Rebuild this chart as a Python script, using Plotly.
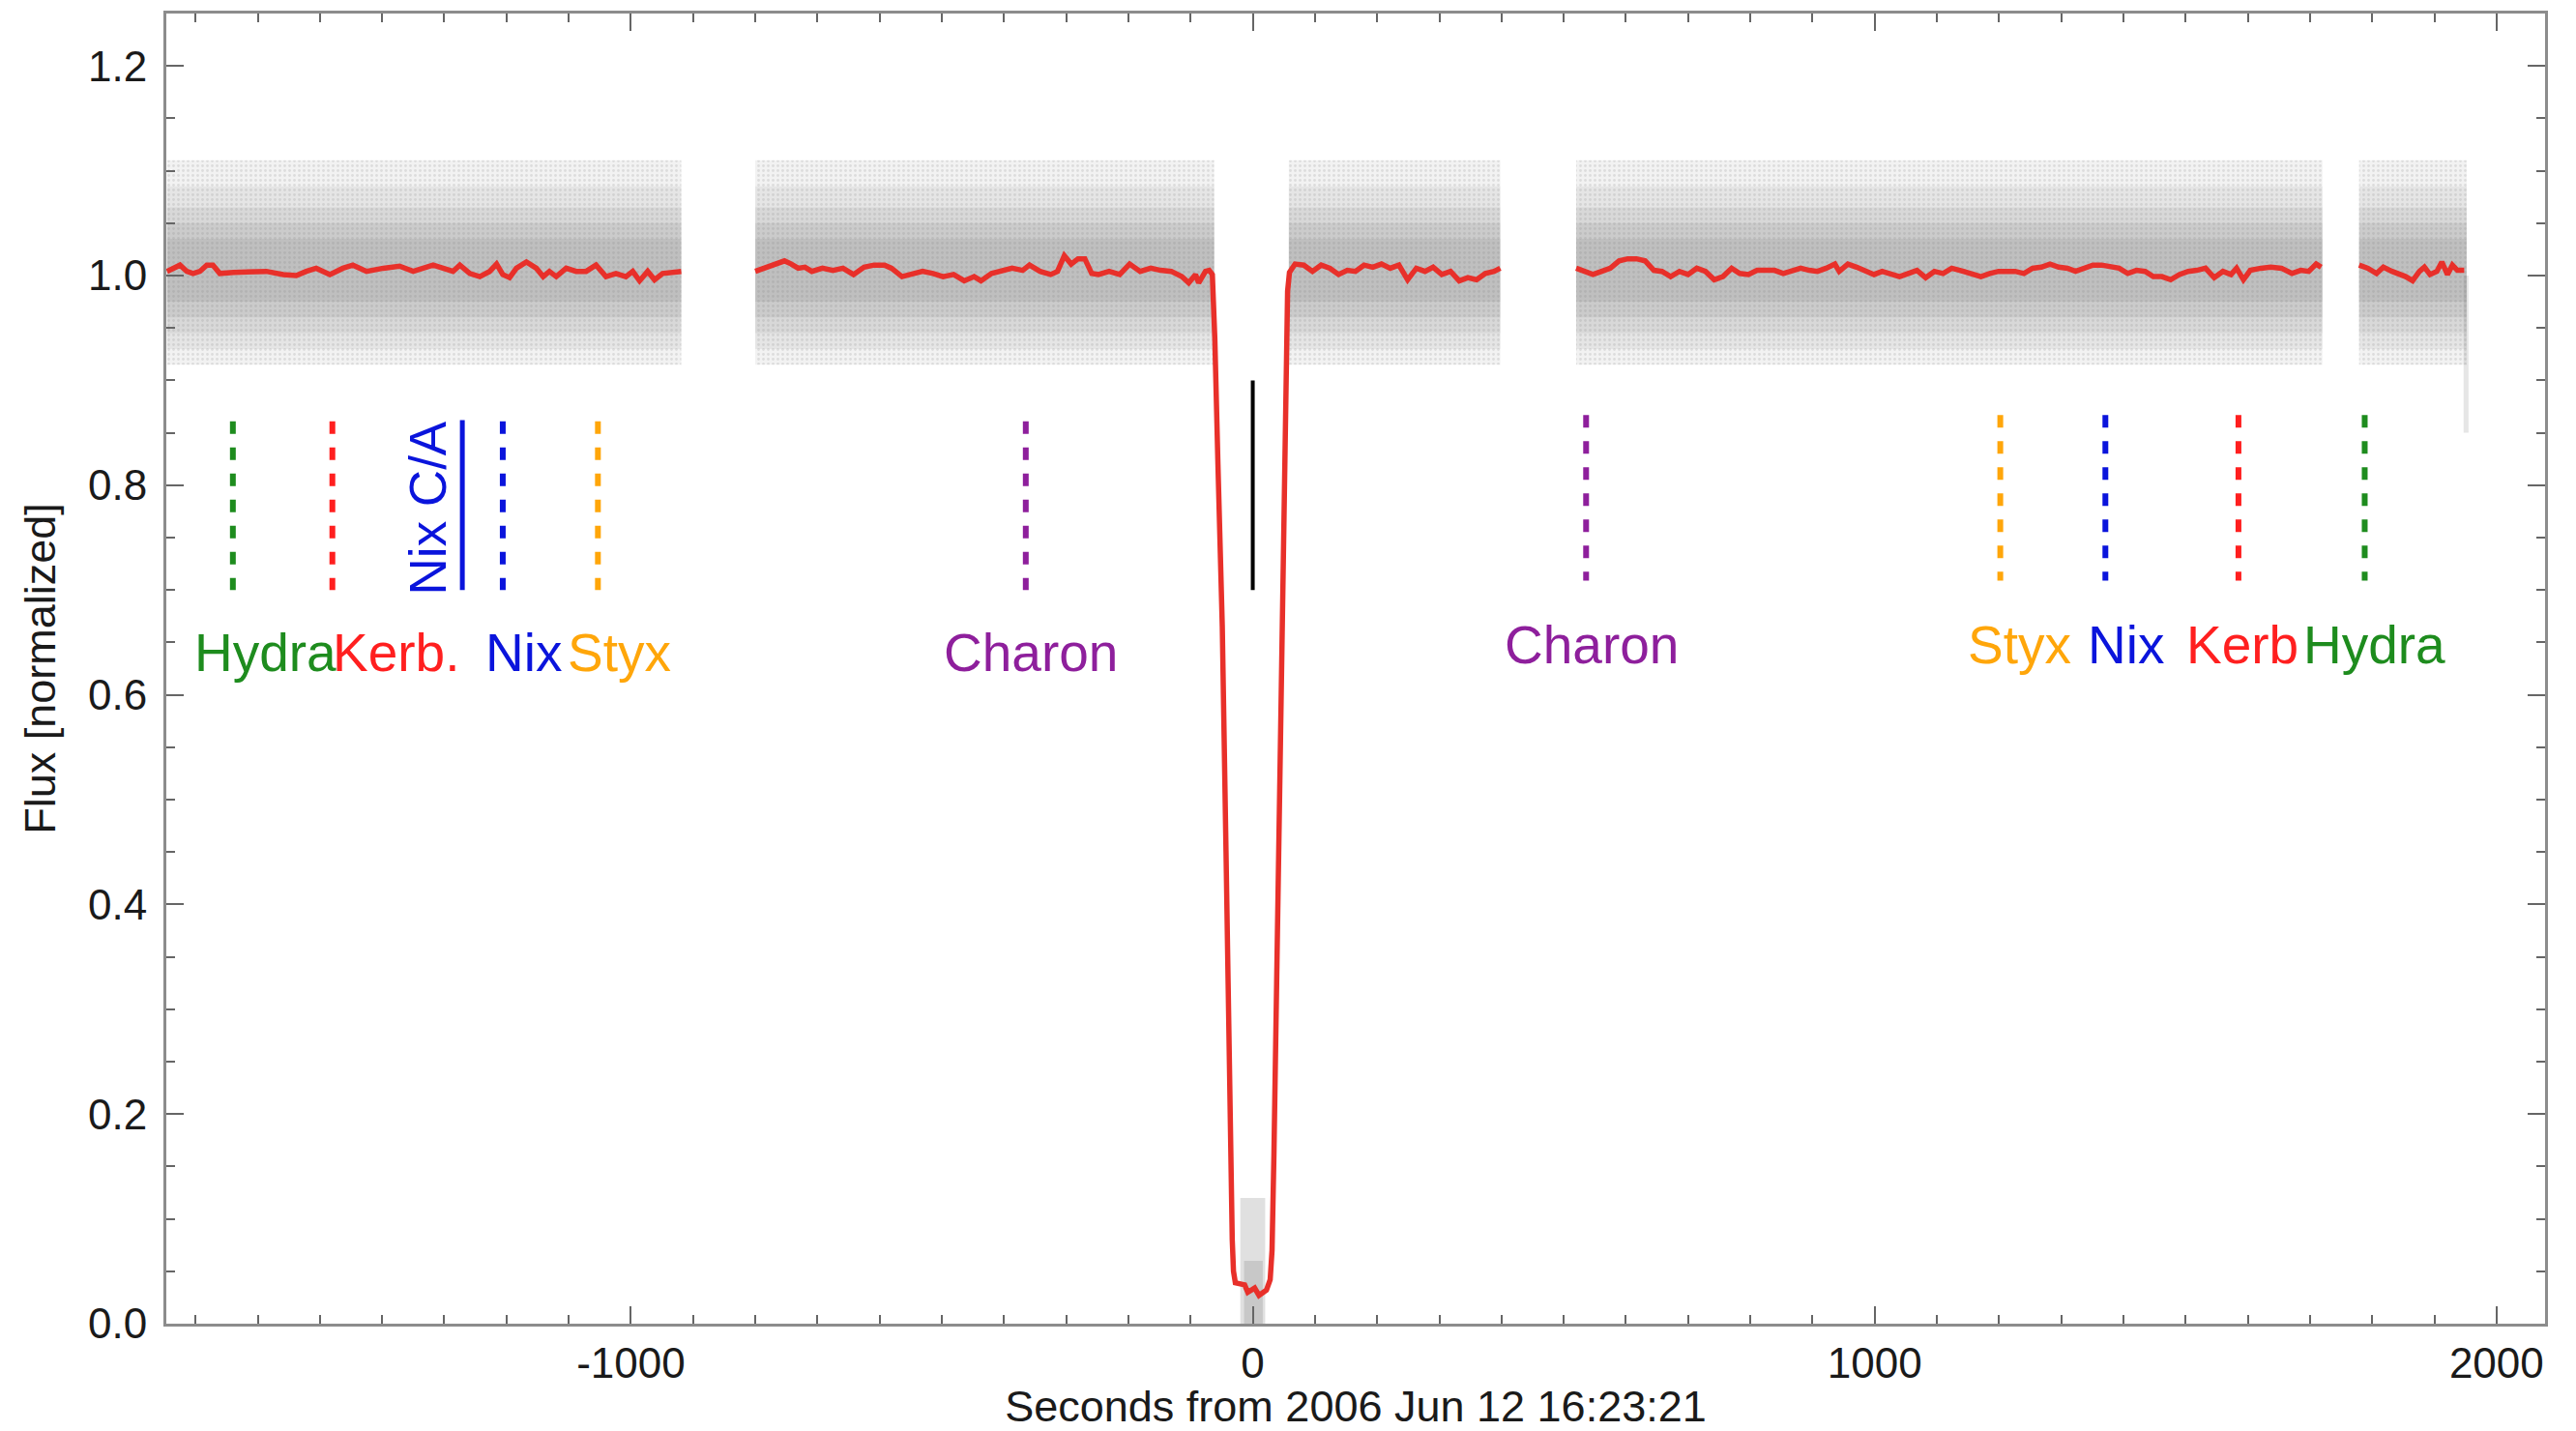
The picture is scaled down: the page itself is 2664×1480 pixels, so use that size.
import plotly.graph_objects as go

# Smoothed occultation light curve; None marks gaps in the record
curve_t = [
    -1746, -1736, -1725, -1714, -1704, -1693, -1682, -1672, -1661, -1639, -1613, -1586, -1559, -1538,
    -1522, -1506, -1484, -1463, -1447, -1425, -1398, -1372, -1350, -1334, -1318, -1302, -1286, -1275,
    -1259, -1243, -1227, -1216, -1206, -1195, -1184, -1168, -1152, -1141, -1131, -1120, -1104, -1088,
    -1072, -1056, -1040, -1024, -1008, -997, -986, -973, -962, -949, -933, -919,
    None,
    -800, -786, -770, -753, -742, -731, -720, -709, -692, -675, -659, -642, -625, -609, -592, -581,
    -564, -548, -531, -514, -498, -481, -464, -448, -437, -420, -403, -387, -370, -359, -342, -325,
    -314, -303, -292, -281, -270, -259, -248, -231, -214, -198, -181, -164, -148, -131, -114, -103,
    -92, -87, -76, -70, -65,
    -62, -61, -56, -49, -43, -38, -36, -33, -31, -28, -20, -13, -8, -2, 3, 10, 16, 22, 28, 31, 34,
    37, 42, 47, 53, 56,
    59, 68, 82, 96, 110, 124, 138, 152, 165, 179, 193, 207, 221, 235, 249, 263, 277, 290, 304, 318,
    332, 346, 360, 374, 388, 398,
    None,
    520, 533, 547, 561, 575, 589, 603, 617, 631, 645, 658, 672, 686, 700, 714, 728, 742, 756, 770,
    783, 797, 811, 825, 839, 853, 867, 881, 895, 908, 922, 936, 943, 957, 971, 985, 999, 1012, 1026,
    1040, 1054, 1068, 1082, 1096, 1110, 1124, 1137, 1157, 1171, 1185, 1199, 1212, 1226, 1240, 1254,
    1268, 1282, 1296, 1310, 1323, 1337, 1351, 1365, 1379, 1393, 1407, 1421, 1435, 1448, 1462, 1476,
    1490, 1504, 1518, 1532, 1546, 1560, 1573, 1582, 1593, 1604, 1621, 1637, 1654, 1671, 1685, 1698,
    1710, 1718,
    None,
    1779, 1793, 1807, 1818, 1832, 1843, 1854, 1865, 1876, 1884, 1893, 1904, 1912, 1921, 1929, 1937,
    1948,
]
curve_flux = [
    1.004, 1.007, 1.010, 1.004, 1.002, 1.004, 1.010, 1.010, 1.002, 1.003, 1.004, 1.004, 1.001, 1.000,
    1.004, 1.007, 1.001, 1.007, 1.010, 1.004, 1.007, 1.009, 1.004, 1.007, 1.010, 1.007, 1.004, 1.010,
    1.002, 0.999, 1.004, 1.011, 1.001, 0.998, 1.007, 1.013, 1.007, 0.999, 1.004, 0.999, 1.007, 1.004,
    1.004, 1.010, 0.999, 1.002, 0.999, 1.004, 0.995, 1.004, 0.996, 1.002, 1.003, 1.004,
    None,
    1.004, 1.007, 1.011, 1.014, 1.011, 1.007, 1.008, 1.004, 1.007, 1.005, 1.007, 1.001, 1.008, 1.010,
    1.010, 1.007, 0.999, 1.002, 1.004, 1.002, 0.999, 1.001, 0.995, 0.999, 0.995, 1.002, 1.004, 1.007,
    1.005, 1.010, 1.004, 1.001, 1.004, 1.019, 1.011, 1.016, 1.016, 1.002, 1.001, 1.004, 1.001, 1.011,
    1.004, 1.007, 1.005, 1.004, 0.999, 0.993, 1.001, 0.993, 1.004, 1.005, 1.001,
    0.970, 0.940, 0.820, 0.665, 0.450, 0.250, 0.160, 0.080, 0.050, 0.039, 0.038, 0.037, 0.030, 0.033,
    0.034, 0.027, 0.029, 0.032, 0.042, 0.070, 0.160, 0.280, 0.450, 0.665, 0.940, 0.985,
    1.003, 1.011, 1.010, 1.004, 1.010, 1.007, 1.001, 1.005, 1.004, 1.010, 1.008, 1.011, 1.007, 1.010,
    0.996, 1.007, 1.004, 1.008, 1.001, 1.004, 0.995, 0.998, 0.996, 1.002, 1.004, 1.007,
    None,
    1.007, 1.004, 1.001, 1.004, 1.007, 1.014, 1.016, 1.016, 1.014, 1.005, 1.004, 0.999, 1.004, 1.001,
    1.007, 1.004, 0.996, 0.999, 1.007, 1.002, 1.001, 1.005, 1.005, 1.005, 1.002, 1.004, 1.007, 1.005,
    1.004, 1.007, 1.011, 1.004, 1.011, 1.008, 1.004, 1.001, 1.004, 1.002, 0.999, 1.002, 1.005, 0.998,
    1.004, 1.002, 1.007, 1.005, 1.002, 0.999, 1.002, 1.004, 1.004, 1.004, 1.002, 1.007, 1.008, 1.011,
    1.008, 1.007, 1.004, 1.007, 1.010, 1.010, 1.008, 1.007, 1.002, 1.005, 1.004, 0.999, 0.999, 0.996,
    1.001, 1.004, 1.005, 1.007, 0.998, 1.004, 1.001, 1.007, 0.996, 1.005, 1.007, 1.008, 1.007, 1.002,
    1.005, 1.004, 1.011, 1.008,
    None,
    1.010, 1.007, 1.002, 1.008, 1.004, 1.002, 0.999, 0.995, 1.004, 1.008, 1.001, 1.004, 1.013, 1.001,
    1.010, 1.005, 1.005,
]

# Spread of the raw photometry: time spans of each data block and nested flux
# envelopes of the scatter, from the sparse outskirts to the dense core
cloud_t_start = [-1746, -800, 58, 520, 1779]
cloud_t_end = [-919, -62, 398, 1720, 1952]
cloud_low = [0.915, 0.930, 0.945, 0.960, 0.975]
cloud_high = [1.110, 1.085, 1.065, 1.050, 1.035]
# raw points at the bottom of the occultation
floor_t_start = [-20, -14]
floor_t_end = [20, 16]
floor_low = [0.0, 0.0]
floor_high = [0.12, 0.06]
# trailing points at the end of the record
tail_t = (1947, 1955)
tail_flux = (0.85, 1.0)

# Predicted closest-approach times of Charon and the small satellites
sat_names = ["Hydra", "Kerb.", "Nix", "Styx", "Charon", "Charon", "Styx", "Nix", "Kerb", "Hydra"]
sat_t = [-1640, -1480, -1206, -1053, -365, 536, 1202, 1371, 1585, 1788]
sat_top = [0.861, 0.861, 0.861, 0.861, 0.861, 0.867, 0.867, 0.867, 0.867, 0.867]
sat_bottom = [0.700, 0.700, 0.700, 0.700, 0.700, 0.709, 0.709, 0.709, 0.709, 0.709]
sat_colors = ["#1e8c1e", "#ff1f1f", "#0a14dc", "#ffa60a", "#8e1f9c",
              "#8e1f9c", "#ffa60a", "#0a14dc", "#ff1f1f", "#1e8c1e"]
label_t = [-1587, -1378, -1173, -1019, -357, 545, 1233, 1404, 1591, 1803]
label_flux = [0.640, 0.640, 0.640, 0.640, 0.640, 0.648, 0.648, 0.648, 0.648, 0.648]

# Nix closest approach and mid-occultation marker
nix_ca_t = -1271
nix_ca_label_t = -1326
nix_ca_span = (0.862, 0.700)
mid_t = 0
mid_span = (0.90, 0.70)

# Axis ticks
x_tick_vals = [-1000, 0, 1000, 2000]
x_tick_text = ["-1000", "0", "1000", "2000"]

FONT = "Liberation Sans, Arial, Helvetica, sans-serif"
fig = go.Figure()


def add_band(t0s, t1s, lo, hi, color):
    xs, ys = [], []
    for a, b in zip(t0s, t1s):
        xs += [a, b, b, a, a, None]
        ys += [lo, lo, hi, hi, lo, None]
    fig.add_trace(go.Scatter(x=xs, y=ys, mode="lines", fill="toself", fillcolor=color,
                             line=dict(width=0), hoverinfo="skip", showlegend=False))


cloud_alpha = [0.09, 0.10, 0.11, 0.12, 0.13]
for lo, hi, a in zip(cloud_low, cloud_high, cloud_alpha):
    add_band(cloud_t_start, cloud_t_end, lo, hi, f"rgba(115,115,115,{a})")
for t0, t1, lo, hi in zip(floor_t_start, floor_t_end, floor_low, floor_high):
    add_band([t0], [t1], lo, hi, "rgba(115,115,115,0.22)")
add_band([tail_t[0]], [tail_t[1]], tail_flux[0], tail_flux[1], "rgba(115,115,115,0.18)")

# stipple texture over the scatter envelope
xs, ys = [], []
for a, b in zip(cloud_t_start, cloud_t_end):
    xs += [a, b, b, a, a, None]
    ys += [cloud_low[0], cloud_low[0], cloud_high[0], cloud_high[0], cloud_low[0], None]
fig.add_trace(go.Scatter(x=xs, y=ys, mode="lines", fill="toself",
                         fillcolor="rgba(0,0,0,0)",
                         fillpattern=dict(shape=".", size=5, solidity=0.25,
                                          fgcolor="rgba(120,120,120,0.35)",
                                          bgcolor="rgba(0,0,0,0)"),
                         line=dict(width=0), hoverinfo="skip", showlegend=False))

# smoothed light curve
fig.add_trace(go.Scatter(x=curve_t, y=curve_flux, mode="lines",
                         line=dict(color="#e8302a", width=5.5), connectgaps=False,
                         hoverinfo="skip", showlegend=False))

# mid-occultation bar
fig.add_trace(go.Scatter(x=[mid_t, mid_t], y=list(mid_span), mode="lines",
                         line=dict(color="black", width=4), showlegend=False))

# satellite markers
for t, top, bot, col in zip(sat_t, sat_top, sat_bottom, sat_colors):
    fig.add_trace(go.Scatter(x=[t, t], y=[top, bot], mode="lines",
                             line=dict(color=col, width=6, dash="13px,14px"),
                             showlegend=False))
fig.add_trace(go.Scatter(x=[nix_ca_t, nix_ca_t], y=list(nix_ca_span), mode="lines",
                         line=dict(color="#0a14dc", width=5), showlegend=False))

for name, t, f, col in zip(sat_names, label_t, label_flux, sat_colors):
    fig.add_annotation(x=t, y=f, text=name, showarrow=False, xanchor="center", yanchor="middle",
                       font=dict(family=FONT, size=55, color=col))
fig.add_annotation(x=nix_ca_label_t, y=0.778, text="Nix C/A", textangle=-90, showarrow=False,
                   xanchor="center", yanchor="middle",
                   font=dict(family=FONT, size=53, color="#0a14dc"))

axis_common = dict(
    showline=True, linecolor="#8c8c8c", linewidth=3, mirror="ticks",
    ticks="inside", ticklen=18, tickwidth=2, tickcolor="#666666",
    showgrid=False, zeroline=False,
    tickfont=dict(family=FONT, size=44, color="#1a1a1a"),
)
fig.update_xaxes(range=[-1747, 2078], tickvals=x_tick_vals, ticktext=x_tick_text,
                 minor=dict(tick0=0, dtick=100, ticks="inside", ticklen=9, tickwidth=2,
                            tickcolor="#666666"),
                 title=dict(text="Seconds from 2006 Jun 12 16:23:21",
                            font=dict(family=FONT, size=45, color="#1a1a1a"), standoff=4),
                 **axis_common)
fig.update_yaxes(range=[0, 1.25], tick0=0, dtick=0.2, tickformat=".1f", ticklabelstandoff=8,
                 minor=dict(tick0=0, dtick=0.05, ticks="inside", ticklen=9, tickwidth=2,
                            tickcolor="#666666"),
                 title=dict(text="Flux [normalized]",
                            font=dict(family=FONT, size=45, color="#1a1a1a"), standoff=20),
                 **axis_common)

fig.update_layout(width=2664, height=1480, margin=dict(l=172, r=32, t=11, b=104),
                  paper_bgcolor="white", plot_bgcolor="white", showlegend=False)

fig.write_html("out.html")
